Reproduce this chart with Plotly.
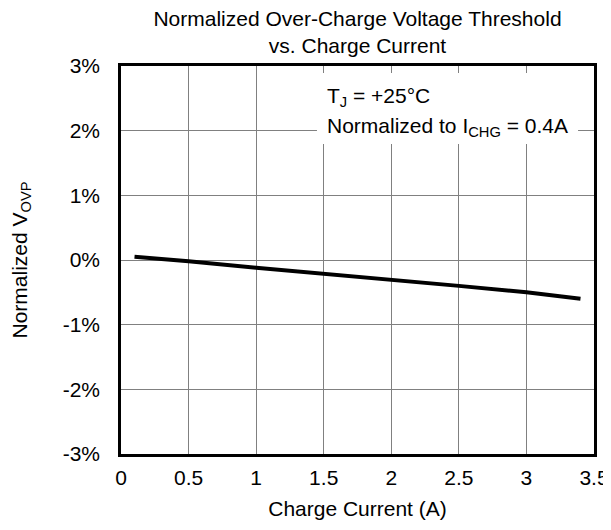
import plotly.graph_objects as go

current_a = [0.1, 0.4, 0.5, 1.0, 1.5, 2.0, 2.5, 3.0, 3.4]
vovp_pct = [0.05, 0.0, -0.02, -0.12, -0.21, -0.31, -0.40, -0.50, -0.60]

x_ticks = [0, 0.5, 1, 1.5, 2, 2.5, 3, 3.5]
x_labels = ["0", "0.5", "1", "1.5", "2", "2.5", "3", "3.5"]
y_ticks = [3, 2, 1, 0, -1, -2, -3]
y_labels = ["3%", "2%", "1%", "0%", "-1%", "-2%", "-3%"]

FONT = "Liberation Sans, Arial, sans-serif"
W, H = 603, 522  # page body adds an 8px margin

fig = go.Figure()
fig.add_trace(go.Scatter(
    x=current_a, y=vovp_pct, mode="lines",
    line=dict(color="black", width=4), showlegend=False, hoverinfo="skip"))

fig.add_shape(type="rect", xref="x", yref="y", x0=1.45, x1=3.382, y0=1.794, y1=2.892,
              fillcolor="white", line=dict(width=0), layer="above")

fig.update_layout(
    width=W, height=H,
    margin=dict(l=113, r=17, t=58, b=76),
    paper_bgcolor="white", plot_bgcolor="white",
    font=dict(family=FONT, size=21, color="black"),
    title=dict(text="Normalized Over-Charge Voltage Threshold<br>vs. Charge Current",
               x=0.5, xref="paper", xanchor="center",
               yref="container", y=1 - 17.5 / H, yanchor="middle",
               font=dict(family=FONT, size=21, color="black")),
    annotations=[
        dict(x=1.51, y=2.521, xref="x", yref="y", xanchor="left", yanchor="middle",
             text="T<sub>J</sub> = +25°C", showarrow=False,
             font=dict(family=FONT, size=21, color="black")),
        dict(x=1.51, y=2.064, xref="x", yref="y", xanchor="left", yanchor="middle",
             text="Normalized to I<sub>CHG</sub> = 0.4A", showarrow=False,
             font=dict(family=FONT, size=21, color="black")),
    ],
)
fig.update_xaxes(
    range=[0, 3.5], tickvals=x_ticks, ticktext=x_labels, automargin=False,
    showgrid=True, gridcolor="#808080", gridwidth=1,
    showline=True, linecolor="black", linewidth=2.5, mirror=True,
    ticks="", ticklabelstandoff=3, zeroline=False,
    title=dict(text="Charge Current (A)", standoff=14, font=dict(size=21)))
fig.update_yaxes(
    range=[-3, 3], tickvals=y_ticks, ticktext=y_labels, automargin=False,
    showgrid=True, gridcolor="#808080", gridwidth=1,
    showline=True, linecolor="black", linewidth=2.5, mirror=True,
    ticks="", ticklabelstandoff=14, zeroline=False,
    title=dict(text="Normalized V<sub>OVP</sub>", standoff=39, font=dict(size=21)))

fig.write_html("out.html")
